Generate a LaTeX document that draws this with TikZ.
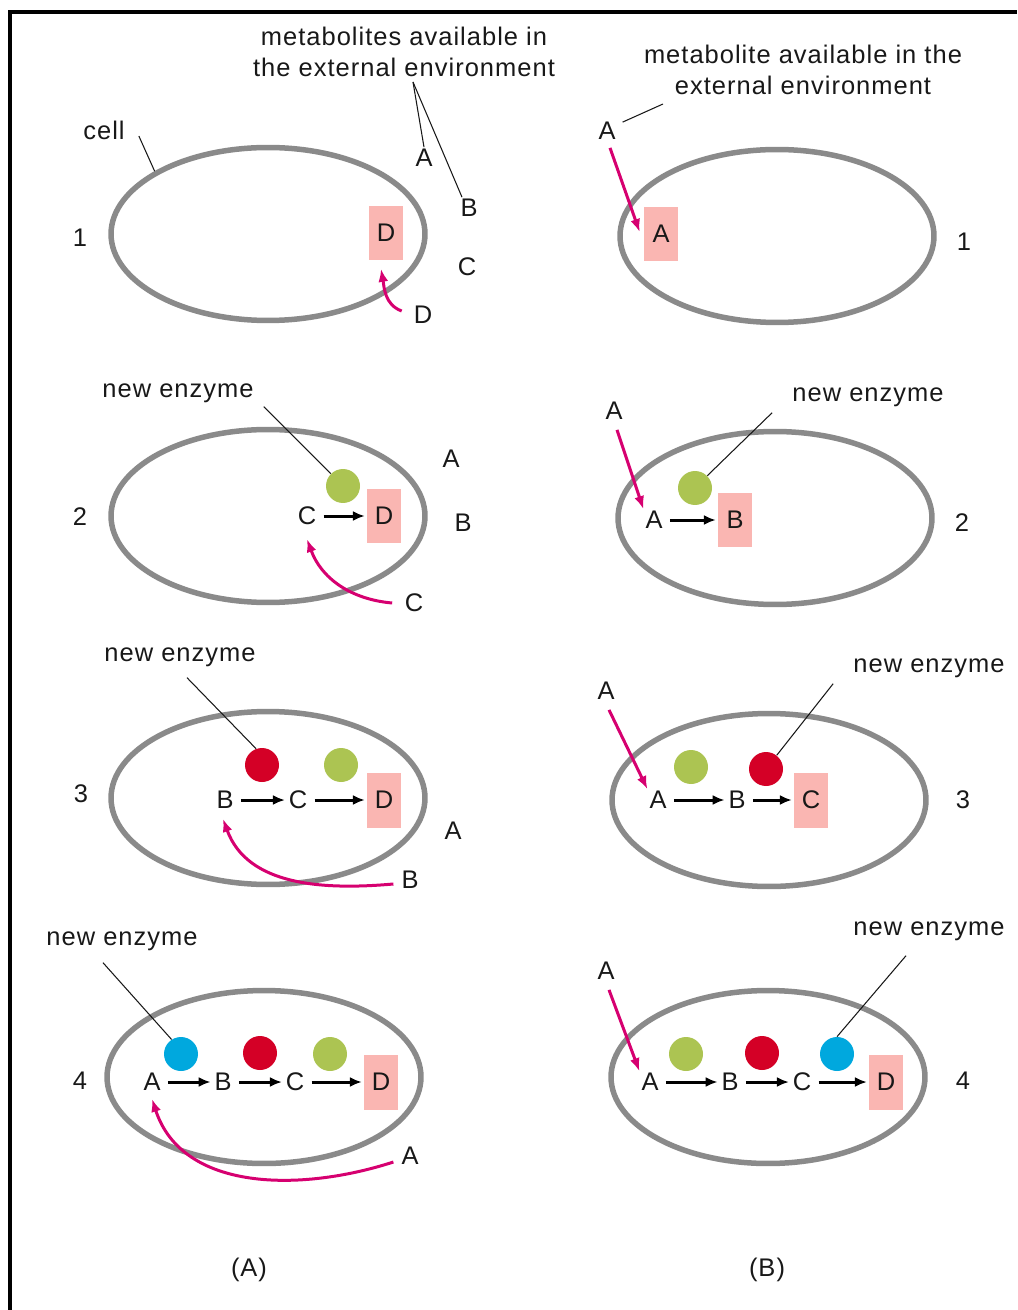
\documentclass[tikz,border=0pt]{standalone}
\usepackage{fontspec}
\setmainfont{Liberation Sans}[LetterSpace=4.0]
\usepackage{xcolor}
\usepackage{tikz}
\usetikzlibrary{shapes.geometric,arrows.meta}

\definecolor{membrane}{RGB}{138,138,138}
\definecolor{uptake}{RGB}{214,0,112}
\definecolor{product}{RGB}{250,182,178}
\definecolor{enzgreen}{RGB}{172,196,82}
\definecolor{enzred}{RGB}{212,0,38}
\definecolor{enzblue}{RGB}{0,168,222}
\definecolor{ink}{RGB}{24,24,24}

\tikzset{
  cell/.style={ellipse, draw=membrane, line width=0.11cm, minimum width=6.28cm, minimum height=3.46cm, inner sep=0pt},
  met/.style={inner sep=1pt, text=ink},
  prod/.style={fill=product, minimum width=0.68cm, minimum height=1.1cm, inner sep=0pt, text=ink},
  enz/.style={circle, minimum size=0.68cm, inner sep=0pt},
  conv/.style={-{Latex[length=0.24cm,width=0.2cm]}, line width=0.06cm, shorten <=3pt, shorten >=1pt},
  feed/.style={-{Latex[length=0.26cm,width=0.2cm]}, draw=uptake, line width=0.06cm},
  pointer/.style={draw=ink, line width=0.6pt},
  lbl/.style={text=ink, align=center}
}

\begin{document}
\begin{tikzpicture}[x=0.02cm, y=-0.02cm, font=\fontsize{14.5}{17.5}\selectfont]
\useasboundingbox (0,0) rectangle (1017,1310);
\draw[line width=0.08cm] (10,1310) -- (10,12) -- (1017,12);

% cells
\node[cell] (cA1) at (268,234) {};
\node[cell] (cA2) at (268,516) {};
\node[cell] (cA3) at (268,798) {};
\node[cell] (cA4) at (264,1077) {};
\node[cell] (cB1) at (777,236) {};
\node[cell] (cB2) at (775,518) {};
\node[cell] (cB3) at (769,800) {};
\node[cell] (cB4) at (768,1077) {};

% stage numbers
\node[lbl] (nA1) at (80,238) {1};
\node[lbl] (nA2) at (80,517) {2};
\node[lbl] (nA3) at (81,794) {3};
\node[lbl] (nA4) at (80,1081) {4};
\node[lbl] (nB1) at (964,242) {1};
\node[lbl] (nB2) at (962,523) {2};
\node[lbl] (nB3) at (963,800) {3};
\node[lbl] (nB4) at (963,1081) {4};

% (A) stage 1
\node[lbl] (envA) at (404,52) {metabolites available in\\the external environment};
\coordinate (forkA) at (413,82);
\node[lbl] (cellname) at (104,130) {cell};
\draw[pointer] ([shift={(8,6)}]cellname.east) -- (cA1.151);
\node[met] (xA1a) at (424,158) {A};
\node[met] (xA1b) at (469,208) {B};
\node[met] (xA1c) at (467,267) {C};
\node[met] (xA1d) at (423,315) {D};
\draw[pointer] (forkA) -- (xA1a.north);
\draw[pointer] (forkA) -- ([xshift=-4]xA1b.north);
\node[prod] (pA1) at (386,233) {D};
\draw[feed] ([shift={(-10,-4)}]xA1d.west) to[out=160,in=-80] ([shift={(-5,8)}]pA1.south);

% (A) stage 2
\node[lbl] (newA2) at (178,393) {new enzyme};
\node[enz, fill=enzgreen] (gA2) at (343,486) {};
\node[met] (mA2c) at (307,516) {C};
\node[prod] (pA2) at (384,516) {D};
\draw[conv] (mA2c) -- (pA2);
\draw[pointer] ([shift={(4,-2)}]newA2.south east) -- (gA2.135);
\node[met] (xA2a) at (451,459) {A};
\node[met] (xA2b) at (463,523) {B};
\node[met] (xA2c) at (414,603) {C};
\draw[feed] ([xshift=-6]xA2c.west) to[out=175,in=-70] ([shift={(0,12)}]mA2c.south);

% (A) stage 3
\node[lbl] (newA3) at (180,657) {new enzyme};
\node[enz, fill=enzred] (rA3) at (262,765) {};
\node[enz, fill=enzgreen] (gA3) at (341,765) {};
\node[met] (mA3b) at (225,800) {B};
\node[met] (mA3c) at (298,800) {C};
\node[prod] (pA3) at (384,800) {D};
\draw[conv] (mA3b) -- (mA3c);
\draw[conv] (mA3c) -- (pA3);
\draw[pointer] ([shift={(7,5)}]newA3.south) -- (rA3.110);
\node[met] (xA3a) at (453,831) {A};
\node[met] (xA3b) at (410,880) {B};
\draw[feed] ([shift={(-6,4)}]xA3b.west) to[out=185,in=-70] ([shift={(-2,8)}]mA3b.south);

% (A) stage 4
\node[lbl] (newA4) at (122,941) {new enzyme};
\node[enz, fill=enzblue] (bA4) at (181,1054) {};
\node[enz, fill=enzred] (rA4) at (260,1053) {};
\node[enz, fill=enzgreen] (gA4) at (330,1054) {};
\node[met] (mA4a) at (152,1082) {A};
\node[met] (mA4b) at (223,1082) {B};
\node[met] (mA4c) at (295,1082) {C};
\node[prod] (pA4) at (381,1082) {D};
\draw[conv] (mA4a) -- (mA4b);
\draw[conv] (mA4b) -- (mA4c);
\draw[conv] (mA4c) -- (pA4);
\draw[pointer] ([shift={(-19,6)}]newA4.south) -- (bA4.123);
\node[met] (xA4a) at (410,1156) {A};
\draw[feed] ([shift={(-6,6)}]xA4a.west) to[out=198,in=-72] ([shift={(0,6)}]mA4a.south);

% (B) stage 1
\node[lbl] (envB) at (803,70) {metabolite available in the\\external environment};
\node[met] (xB1a) at (607,131) {A};
\coordinate (tipB) at (663,104);
\draw[pointer] ([shift={(5,2)}]xB1a.north east) -- (tipB);
\node[prod] (pB1) at (661,234) {A};
\draw[feed] ([shift={(3,6)}]xB1a.south) -- ([shift={(-4,-2)}]pB1.west);

% (B) stage 2
\node[lbl] (newB2) at (868,397) {new enzyme};
\node[enz, fill=enzgreen] (gB2) at (695,488) {};
\node[met] (mB2a) at (654,520) {A};
\node[prod] (pB2) at (735,520) {B};
\draw[conv] (mB2a) -- (pB2);
\draw[pointer] ([xshift=-8]newB2.south west) -- (gB2.45);
\node[met] (xB2a) at (614,411) {A};
\draw[feed] ([shift={(3,8)}]xB2a.south) -- (mB2a.north west);

% (B) stage 3
\node[lbl] (newB3) at (929,668) {new enzyme};
\node[enz, fill=enzgreen] (gB3) at (691,767) {};
\node[enz, fill=enzred] (rB3) at (766,769) {};
\node[met] (mB3a) at (658,800) {A};
\node[met] (mB3b) at (737,800) {B};
\node[prod] (pB3) at (811,800) {C};
\draw[conv] (mB3a) -- (mB3b);
\draw[conv] (mB3b) -- (pB3);
\draw[pointer] ([xshift=-8]newB3.south west) -- (rB3.52);
\node[met] (xB3a) at (606,691) {A};
\draw[feed] ([shift={(3,8)}]xB3a.south) -- (mB3a.north west);

% (B) stage 4
\node[lbl] (newB4) at (929,931) {new enzyme};
\node[enz, fill=enzgreen] (gB4) at (686,1054) {};
\node[enz, fill=enzred] (rB4) at (762,1053) {};
\node[enz, fill=enzblue] (bB4) at (837,1054) {};
\node[met] (mB4a) at (650,1082) {A};
\node[met] (mB4b) at (730,1082) {B};
\node[met] (mB4c) at (802,1082) {C};
\node[prod] (pB4) at (886,1082) {D};
\draw[conv] (mB4a) -- (mB4b);
\draw[conv] (mB4b) -- (mB4c);
\draw[conv] (mB4c) -- (pB4);
\draw[pointer] ([shift={(-23,9)}]newB4.south) -- (bB4.north);
\node[met] (xB4a) at (606,971) {A};
\draw[feed] ([shift={(3,8)}]xB4a.south) -- (mB4a.north west);

% panel letters
\node[lbl] (panA) at (249,1270) {(A)};
\node[lbl] (panB) at (767,1270) {(B)};
\end{tikzpicture}
\end{document}
